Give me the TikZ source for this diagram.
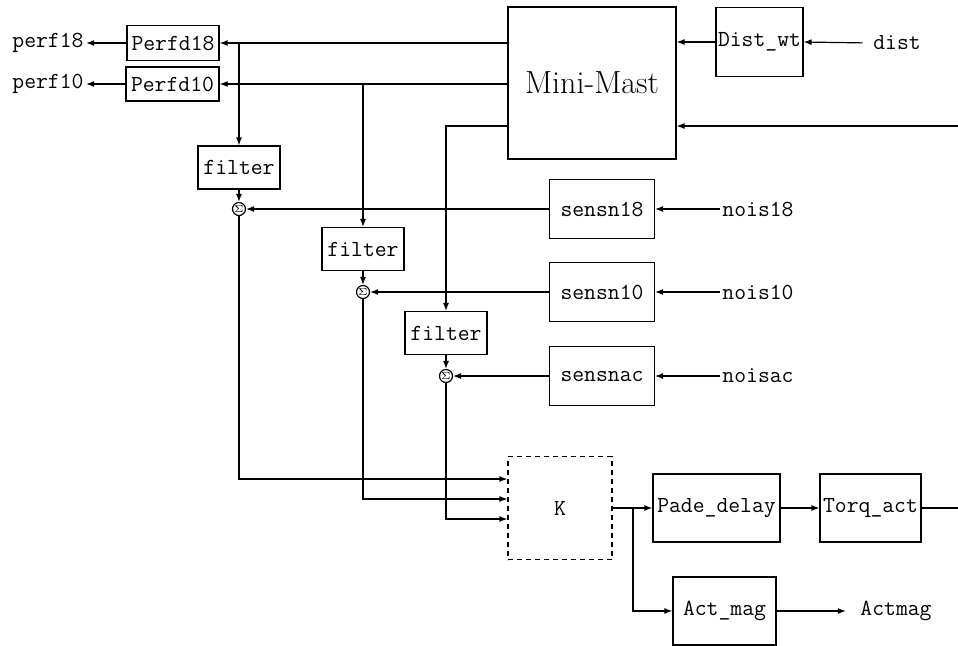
\documentclass[tikz,border=0pt]{standalone}
\usetikzlibrary{arrows.meta}
\begin{document}
\begin{tikzpicture}[x=0.5pt,y=-0.5pt,line width=0.6pt,
  every node/.style={font=\ttfamily\fontsize{11.5}{13}\selectfont},
  sig/.style={-{Latex[length=4pt,width=3pt]}},
  blk/.style={draw,inner sep=1pt},
  lbl/.style={inner sep=1pt},
  sumnode/.style={circle,draw,inner sep=0pt,minimum size=6.5pt,font=\fontsize{5}{5}\selectfont},
  filt/.style={blk,minimum width=41pt,minimum height=21.5pt},
  sens/.style={blk,minimum width=52.5pt,minimum height=29.5pt}]
\useasboundingbox (0,0) rectangle (958,645);
% plant and outputs
\node[lbl] (perf18) at (48,43) {perf18};
\node[lbl] (perf10) at (48,84) {perf10};
\node[blk,minimum width=46pt,minimum height=17.5pt] (perfd18) at (173,43) {Perfd18};
\node[blk,minimum width=46.5pt,minimum height=17pt] (perfd10) at (172.5,84) {Perfd10};
\node[blk,minimum width=84pt,minimum height=76pt,font=\rmfamily\fontsize{16}{18}\selectfont] (mm) at (592,83) {Mini-Mast};
\node[blk,minimum width=42.5pt,minimum height=34.5pt] (distwt) at (759.5,42) {Dist\_wt};
\node[lbl] (dist) at (897,43) {dist};
% filters, sensors, sums
\node[filt] (filt1) at (239,167.5) {filter};
\node[filt] (filt2) at (363,249) {filter};
\node[filt] (filt3) at (446,333) {filter};
\node[sumnode] (sum1) at (239,209) {$\Sigma$};
\node[sumnode] (sum2) at (363,292) {$\Sigma$};
\node[sumnode] (sum3) at (446,376) {$\Sigma$};
\node[sens] (sens18) at (602,209) {sensn18};
\node[sens] (sens10) at (602,292) {sensn10};
\node[sens] (sensac) at (602,376) {sensnac};
\node[lbl] (nois18) at (758,209) {nois18};
\node[lbl] (nois10) at (758,292) {nois10};
\node[lbl] (noisac) at (758,376) {noisac};
% controller and actuators
\node[blk,dashed,dash pattern=on 2.5pt off 2pt,minimum width=52pt,minimum height=51.5pt] (K) at (560,508) {K};
\node[blk,minimum width=63.5pt,minimum height=34pt] (pade) at (716.5,508) {Pade\_delay};
\node[blk,minimum width=50.5pt,minimum height=34pt] (torq) at (870.5,508) {Torq\_act};
\node[blk,minimum width=51.5pt,minimum height=34pt] (actmag) at (724.5,611) {Act\_mag};
\node[lbl] (actlbl) at (896,611) {Actmag};
\coordinate (ctrl) at (958,126);
\coordinate (tqout) at (958,508);
\coordinate (kbr) at (633,508);
% connectors
\draw[sig] (perfd18.west) -- (perf18.east);
\draw[sig] (perfd10.west) -- (perf10.east);
\draw[sig] (mm.west |- perfd18.east) -- (perfd18.east);
\draw[sig] (filt1 |- perfd18.east) -- (filt1.north);
\draw[sig] (mm.west |- perfd10.east) -- (perfd10.east);
\draw[sig] (filt2 |- perfd10.east) -- (filt2.north);
\draw[sig] (ctrl -| mm.west) -| (filt3.north);
\draw[sig] (ctrl) -- (ctrl -| mm.east);
\draw[sig,shorten <=4pt] (dist.west) -- (distwt.east);
\draw[sig] (distwt.west) -- (distwt.west -| mm.east);
\draw[sig] (filt1.south) -- (sum1.north);
\draw[sig] (filt2.south) -- (sum2.north);
\draw[sig] (filt3.south) -- (sum3.north);
\draw[sig] (sens18.west) -- (sum1.east);
\draw[sig] (sens10.west) -- (sum2.east);
\draw[sig] (sensac.west) -- (sum3.east);
\draw[sig] (nois18.west) -- (sens18.east);
\draw[sig] (nois10.west) -- (sens10.east);
\draw[sig] (noisac.west) -- (sensac.east);
\draw[sig] (sum1.south) |- ([yshift=14.5pt]K.west);
\draw[sig] (sum2.south) |- ([yshift=4.5pt]K.west);
\draw[sig] (sum3.south) |- ([yshift=-5.5pt]K.west);
\draw[sig] (K.east) -- (pade.west);
\draw[sig] (kbr) |- (actmag.west);
\draw[sig] (pade.east) -- (torq.west);
\draw (torq.east) -- (tqout);
\draw[sig,shorten >=6pt] (actmag.east) -- (actlbl.west);
\end{tikzpicture}
\end{document}
